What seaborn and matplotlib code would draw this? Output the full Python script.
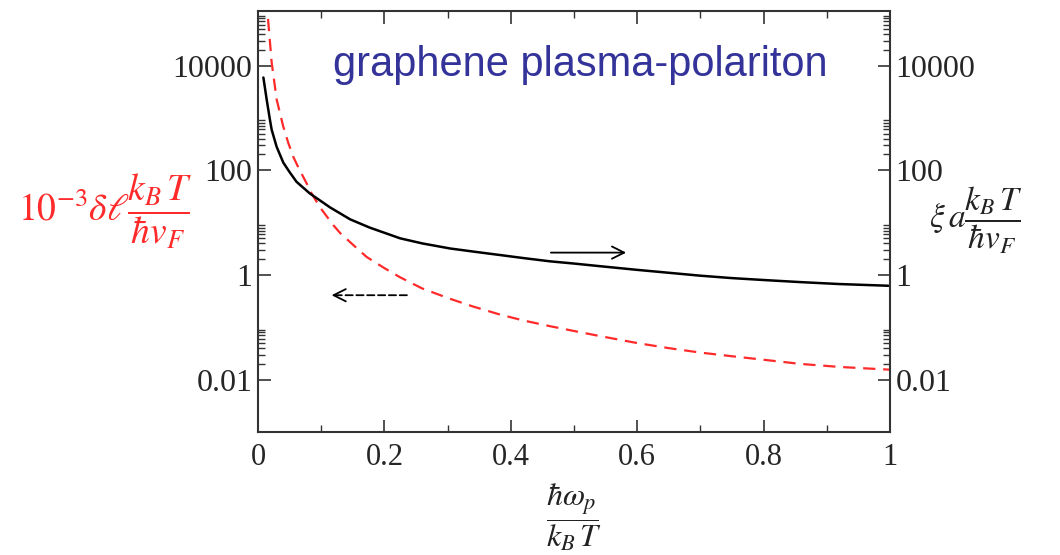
import numpy as np
import pandas as pd
import matplotlib
matplotlib.use('Agg')
import matplotlib.pyplot as plt
from matplotlib.ticker import LogLocator, FuncFormatter, MultipleLocator, NullFormatter
import seaborn as sns

# xi_a * kT/(hbar vF)  (black solid, right axis)
x_xi = [0.0085, 0.0137, 0.019, 0.0216, 0.0295, 0.04, 0.05, 0.061, 0.082, 0.098,
        0.114, 0.146, 0.177, 0.225, 0.26, 0.304, 0.345, 0.383, 0.42, 0.462,
        0.5, 0.541, 0.6, 0.65, 0.699, 0.75, 0.8, 0.858, 0.92, 1.0]
y_xi = [5900, 2250, 900, 595, 280, 140, 92, 60, 36, 26.5,
        19.5, 11.5, 8.0, 5.0, 4.0, 3.2, 2.75, 2.4, 2.1, 1.82,
        1.65, 1.47, 1.25, 1.1, 0.97, 0.87, 0.8, 0.73, 0.67, 0.62]

# 1e-3 * delta l * kT/(hbar vF)  (red dashed, left axis)
x_dl = [0.014, 0.0148, 0.0216, 0.0295, 0.04, 0.048, 0.056, 0.066, 0.077, 0.082,
        0.098, 0.119, 0.13, 0.15, 0.172, 0.2, 0.225, 0.26, 0.304, 0.34,
        0.383, 0.42, 0.462, 0.5, 0.541, 0.6, 0.65, 0.699, 0.75, 0.8,
        0.858, 0.92, 1.0]
y_dl = [2e5, 1.1e5, 11500, 2250, 680, 330, 178, 100, 56, 41,
        19.6, 9.0, 6.3, 3.8, 2.2, 1.35, 0.9, 0.55, 0.35, 0.25,
        0.175, 0.135, 0.105, 0.085, 0.068, 0.05, 0.04, 0.033, 0.028, 0.024,
        0.02, 0.0175, 0.0155]

title = 'graphene plasma-polariton'

# arrow annotations (data coords)
arrow_right = ((0.459, 2.67), (0.587, 2.67))
arrow_left = ((0.24, 0.41), (0.112, 0.41))

sns.set_theme(style='ticks')
plt.rcParams['font.family'] = ['Liberation Serif', 'DejaVu Serif']
plt.rcParams['mathtext.fontset'] = 'stix'

fig = plt.figure(figsize=(10.6, 5.55), dpi=100)
ax = fig.add_axes([0.2434, 0.2216, 0.5962, 0.7586])

df_xi = pd.DataFrame({'x': x_xi, 'y': y_xi})
df_dl = pd.DataFrame({'x': x_dl, 'y': y_dl})
sns.lineplot(data=df_dl, x='x', y='y', ax=ax, color='#ff2a2a', lw=1.6,
             linestyle=(0, (5.5, 3.5)))
sns.lineplot(data=df_xi, x='x', y='y', ax=ax, color='black', lw=1.8)

ax.set_yscale('log')
ax.set_xlim(0, 1)
ax.set_ylim(1e-3, 1.1e5)

ax.yaxis.set_major_locator(LogLocator(base=100))
ax.yaxis.set_minor_locator(LogLocator(base=100, subs=np.arange(2, 10)))
ax.yaxis.set_major_formatter(FuncFormatter(lambda v, p: '{:g}'.format(v)))
ax.yaxis.set_minor_formatter(NullFormatter())
ax.xaxis.set_major_locator(MultipleLocator(0.2))
ax.xaxis.set_minor_locator(MultipleLocator(0.1))
ax.xaxis.set_major_formatter(FuncFormatter(lambda v, p: '{:g}'.format(v)))

ax.tick_params(which='both', direction='in', top=True, right=True,
               labelright=True, color='#333333')
ax.tick_params(which='major', length=9, width=1.2)
ax.tick_params(which='minor', length=5, width=1.0)
ax.tick_params(axis='x', labelsize=22, pad=8)
ax.tick_params(axis='y', labelsize=23, pad=4)
for s in ax.spines.values():
    s.set_color('#333333')
    s.set_linewidth(1.5)

ax.set_xlabel('')
ax.set_ylabel('')

ax.text(0.51, 0.872, title, transform=ax.transAxes, ha='center', va='center',
        fontsize=30, color='#333399', family=['Liberation Sans', 'DejaVu Sans'])

ax.annotate('', xy=arrow_right[1], xytext=arrow_right[0],
            arrowprops=dict(arrowstyle='->', lw=1.3, color='black', mutation_scale=22))
ax.annotate('', xy=(arrow_left[1][0] + 0.02, arrow_left[1][1]), xytext=arrow_left[0],
            arrowprops=dict(arrowstyle='-', lw=1.3, color='black', linestyle=(0, (4, 2))))
ax.annotate('', xy=arrow_left[1], xytext=(arrow_left[1][0] + 0.025, arrow_left[1][1]),
            arrowprops=dict(arrowstyle='->', lw=1.3, color='black', mutation_scale=22))

fig.text(0.182, 0.62, r'$10^{-3}\delta\ell\dfrac{k_B\,T}{\hbar v_F}$', color='#ff2a2a',
         fontsize=27, ha='right', va='center')
fig.text(0.876, 0.603, r'$\xi\,a\dfrac{k_B\,T}{\hbar v_F}$', color='#222222',
         fontsize=24, ha='left', va='center')
fig.text(0.5415, 0.068, r'$\dfrac{\hbar\omega_p}{k_B\,T}$', color='#222222',
         fontsize=23, ha='center', va='center')

fig.savefig('out.png', dpi=100)
